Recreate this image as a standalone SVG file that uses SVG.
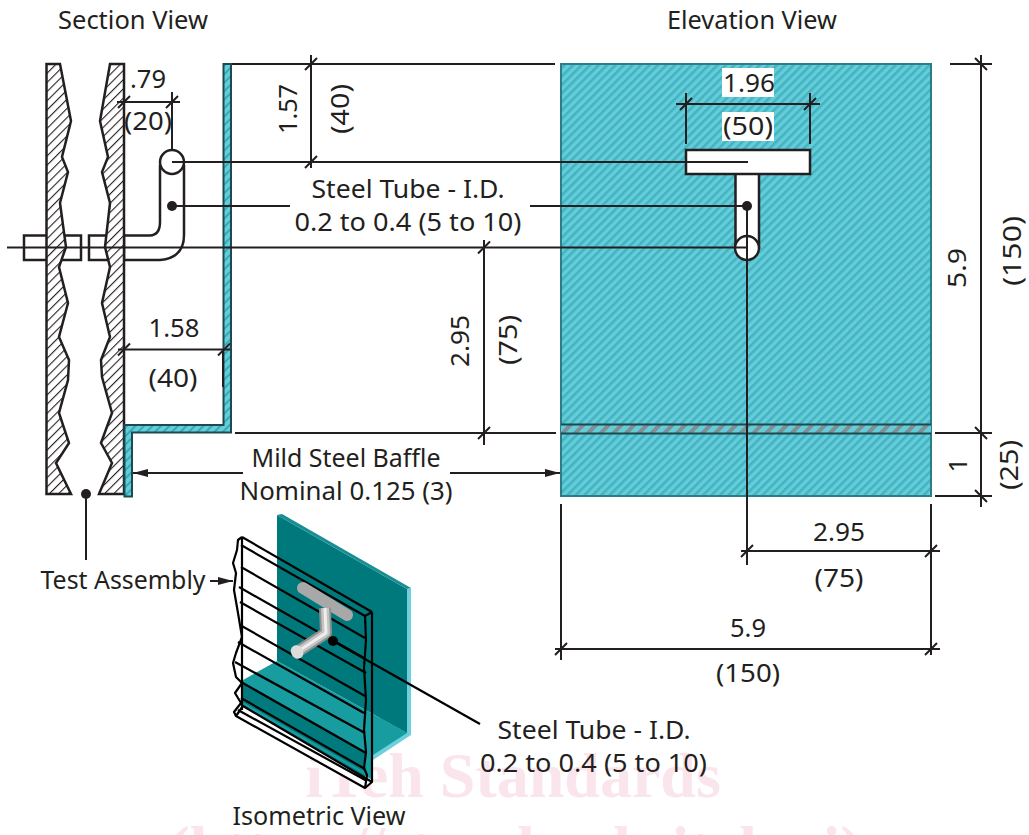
<svg xmlns="http://www.w3.org/2000/svg" width="1029" height="835" viewBox="0 0 1029 835">
<style>
text{font-family:"Noto Sans","DejaVu Sans",sans-serif;font-size:26px;fill:#231f20;text-anchor:middle}
.wm{font-family:"Liberation Serif",serif;font-weight:bold;fill:#fbe5ec;font-size:64px}
.l{fill:none;stroke:#231f20;stroke-width:2}
.o{stroke:#231f20;stroke-width:2.5}
.s{stroke:#000;stroke-width:2.2;fill:none;stroke-linejoin:round}
.d{fill:#231f20}
</style>
<defs>
<pattern id="hb" width="6.500" height="6.500" patternUnits="userSpaceOnUse" patternTransform="rotate(45)"><rect width="6.500" height="6.500" fill="#fff"/><rect width="1.100" height="6.500" fill="#231f20"/></pattern>
<pattern id="ht" width="6" height="6" patternUnits="userSpaceOnUse" patternTransform="rotate(45)"><rect width="6" height="6" fill="#63cdda"/><rect width="2" height="6" fill="#3aa8b5"/></pattern>
<pattern id="hf" width="6" height="6" patternUnits="userSpaceOnUse" patternTransform="rotate(45)"><rect width="6" height="6" fill="#63cdda"/><rect width="2.500" height="6" fill="#45b2bf"/></pattern>
<pattern id="hg" width="9" height="9" patternUnits="userSpaceOnUse" patternTransform="rotate(45)"><rect width="9" height="9" fill="#63cdda"/><rect width="4" height="9" fill="#7f8f93"/></pattern>
<marker id="a" markerWidth="15" markerHeight="8" refX="15" refY="4" orient="auto-start-reverse" markerUnits="userSpaceOnUse"><path d="M0 0L15 4L0 8Z" fill="#231f20"/></marker>
</defs>

<g id="watermark">
<text class="wm" x="513" y="797">iTeh Standards</text>
<text class="wm" x="515" y="870">(https://standards.iteh.ai)</text>
</g>

<g id="section-view">
<rect x="24" y="235.5" width="57" height="24.5" fill="#fff" class="o"/>
<rect x="89" y="235.5" width="35" height="24.5" fill="#fff" class="o"/>
<path d="M46.5 64H60L71 121L62 157L68 172L60 203L66 247L59 267L68 303L59 337L69 360L68 380L59 413L69 443L56 463L71 494H46.5Z" fill="url(#hb)" class="o"/>
<path d="M124 64H110L100 121L108 157L102 172L110 203L105 247L110 267L102 303L110 337L101 360L102 377L112 413L101 443L112 463L99 494H124Z" fill="url(#hb)" class="o"/>
<path d="M124 235.5H150Q160 235 160 222V165M124 260H160Q184 258 184 235V165" fill="none" class="o"/>
<circle cx="172" cy="162" r="12" fill="#fff" class="o"/>
<path d="M223.500 64H231V432.500H132V496.500H124.500V425H223.500Z" fill="url(#ht)" stroke="#1d4a50" stroke-width="2"/>
<circle cx="172" cy="206" r="5" class="d"/>
</g>

<g id="elevation-view">
<rect x="561" y="64" width="370" height="432" fill="url(#hf)" stroke="#2d7d87" stroke-width="2"/>
<rect x="561" y="424.500" width="370" height="9" fill="url(#hg)"/>
<path d="M561 424.500H931M561 433.500H931" stroke="#1d4a50" stroke-width="2"/>
<path d="M735.500 173V248H759V173Z" fill="#fff" class="o"/>
<rect x="686" y="150" width="124" height="24" fill="#fff" class="o"/>
<circle cx="747" cy="248" r="12" fill="#fff" class="o"/>
<circle cx="747" cy="206" r="5" class="d"/>
<rect x="722" y="68" width="52" height="29" fill="#fff"/>
<rect x="722" y="112" width="52" height="29" fill="#fff"/>
</g>

<g id="isometric-view">
<path d="M407 589L411 588V735L373 760V750Z" fill="#6fd0dd"/>
<path d="M277 515L407 589V733L277 661Z" fill="#00797c"/>
<path d="M277 515L282 514L411 588L407 589Z" fill="#178f93"/>
<path d="M243 680L277 661L407 733L373 755V780L243 716Z" fill="#179c9f"/>
<path d="M243 683L365 753V772L243 702ZM243 705L365 775V784L243 716Z" fill="#007a7d"/>
<path d="M236 716L243 706L372 782L365 788Z" fill="#fff"/>
<path d="M236 716L243 706L372 782L365 788Z" class="s"/>
<path d="M372 612V782M242 537V710M242 537L372 612" class="s"/>
<path d="M242 537L238 540L237 550L233 563L236 573L234 590L238 613L242 637L236 653L233 663L236 677L242 683L235 693L241 703L234 712L236 716" class="s"/>
<path d="M372 612L365 616L366 640L364 668L366 700L364 730L366 752L364 768L367 775L365 788" class="s"/>
<path d="M241 545L365 616M241 567L365 638M239 587L364 658M240 602L366 673M240 625L365 696M238 642L364 713M235 662L365 733M241 682L366 753M241 698L365 769M238 710L367 781" class="s"/>
<path d="M303 588L347 615" stroke="#a8a8a8" stroke-width="12" stroke-linecap="round"/>
<path d="M325 608L326 633L297 652" fill="none" stroke="#8f8f8f" stroke-width="12" stroke-linejoin="round"/>
<path d="M325 608L326 633L297 652" fill="none" stroke="#c4c4c4" stroke-width="8" stroke-linejoin="round"/>
<path d="M325 608L326 633L297 652" fill="none" stroke="#eee" stroke-width="3" stroke-linejoin="round"/>
<ellipse cx="297" cy="652" rx="6" ry="7" fill="#dcdcdc" transform="rotate(-30 297 652)"/>
<circle cx="333" cy="641" r="5" fill="#000"/>
</g>

<g id="connectors">
<path class="l" d="M7 247.500H747M172 162H748M172 206H290M530 206H748M747 206V565"/>
<circle cx="86" cy="494" r="5" class="d"/>
<path class="l" d="M86 494V560"/>
<path class="l" d="M210 581H233" marker-end="url(#a)"/>
<path class="s" d="M333 641L480 724"/>
<path class="l" d="M117 102H180M172 92V150"/>
<path class="l" d="M118 349.500H230M223 349V387"/>
<path class="l" d="M232 64H555M311 55V168M235 433H556M484 240V445"/>
<path class="l" d="M133 473H243" marker-start="url(#a)"/>
<path class="l" d="M450 473H560" marker-end="url(#a)"/>
<path class="l" d="M676 104H820M686 93V144M810 93V144"/>
<path class="l" d="M741 551H940M931 504V655M561 504V660M555 649H940"/>
<path class="l" d="M950 64H992M935 433H992M935 496H992M981 55V507"/>
<path class="l" d="M118 108L130 96M166 108L178 96M118 355.500L130 343.500M218 355.500L230 343.500M305 70L317 58M305 168L317 156M478 253.500L490 241.500M478 439L490 427M680 110L692 98M804 110L816 98M741 557L753 545M925 557L937 545M555 655L567 643M925 655L937 643M975 58L987 70M975 427L987 439M975 490L987 502"/>
</g>

<g id="labels">
<text x="133" y="29" textLength="150" lengthAdjust="spacingAndGlyphs">Section View</text>
<text x="752" y="29" textLength="170" lengthAdjust="spacingAndGlyphs">Elevation View</text>
<text x="148" y="88" textLength="36" lengthAdjust="spacingAndGlyphs">.79</text>
<text x="148" y="130" textLength="48" lengthAdjust="spacingAndGlyphs">(20)</text>
<text x="749" y="92" textLength="52" lengthAdjust="spacingAndGlyphs">1.96</text>
<text x="748" y="135" textLength="50" lengthAdjust="spacingAndGlyphs">(50)</text>
<text transform="translate(297 109) rotate(-90)" textLength="50" lengthAdjust="spacingAndGlyphs">1.57</text>
<text transform="translate(349 109) rotate(-90)" textLength="50" lengthAdjust="spacingAndGlyphs">(40)</text>
<text x="408" y="198" textLength="193" lengthAdjust="spacingAndGlyphs">Steel Tube - I.D.</text>
<text x="408" y="231" textLength="227" lengthAdjust="spacingAndGlyphs">0.2 to 0.4 (5 to 10)</text>
<text x="174" y="337" textLength="51" lengthAdjust="spacingAndGlyphs">1.58</text>
<text x="173" y="387" textLength="49" lengthAdjust="spacingAndGlyphs">(40)</text>
<text transform="translate(469 341) rotate(-90)" textLength="52" lengthAdjust="spacingAndGlyphs">2.95</text>
<text transform="translate(517 340) rotate(-90)" textLength="50" lengthAdjust="spacingAndGlyphs">(75)</text>
<text x="346" y="467" textLength="189" lengthAdjust="spacingAndGlyphs">Mild Steel Baffle</text>
<text x="346" y="500" textLength="213" lengthAdjust="spacingAndGlyphs">Nominal 0.125 (3)</text>
<text x="123" y="589" textLength="165" lengthAdjust="spacingAndGlyphs">Test Assembly</text>
<text x="839" y="541" textLength="52" lengthAdjust="spacingAndGlyphs">2.95</text>
<text x="839" y="587" textLength="49" lengthAdjust="spacingAndGlyphs">(75)</text>
<text x="748" y="637" textLength="36" lengthAdjust="spacingAndGlyphs">5.9</text>
<text x="748" y="682" textLength="64" lengthAdjust="spacingAndGlyphs">(150)</text>
<text transform="translate(966 268) rotate(-90)" textLength="40" lengthAdjust="spacingAndGlyphs">5.9</text>
<text transform="translate(1021 251) rotate(-90)" textLength="70" lengthAdjust="spacingAndGlyphs">(150)</text>
<text transform="translate(967 465) rotate(-90)">1</text>
<text transform="translate(1018 465) rotate(-90)" textLength="50" lengthAdjust="spacingAndGlyphs">(25)</text>
<text x="594" y="739" textLength="193" lengthAdjust="spacingAndGlyphs">Steel Tube - I.D.</text>
<text x="593.500" y="772" textLength="227" lengthAdjust="spacingAndGlyphs">0.2 to 0.4 (5 to 10)</text>
<text x="319" y="825" textLength="173" lengthAdjust="spacingAndGlyphs">Isometric View</text>
</g>
</svg>
